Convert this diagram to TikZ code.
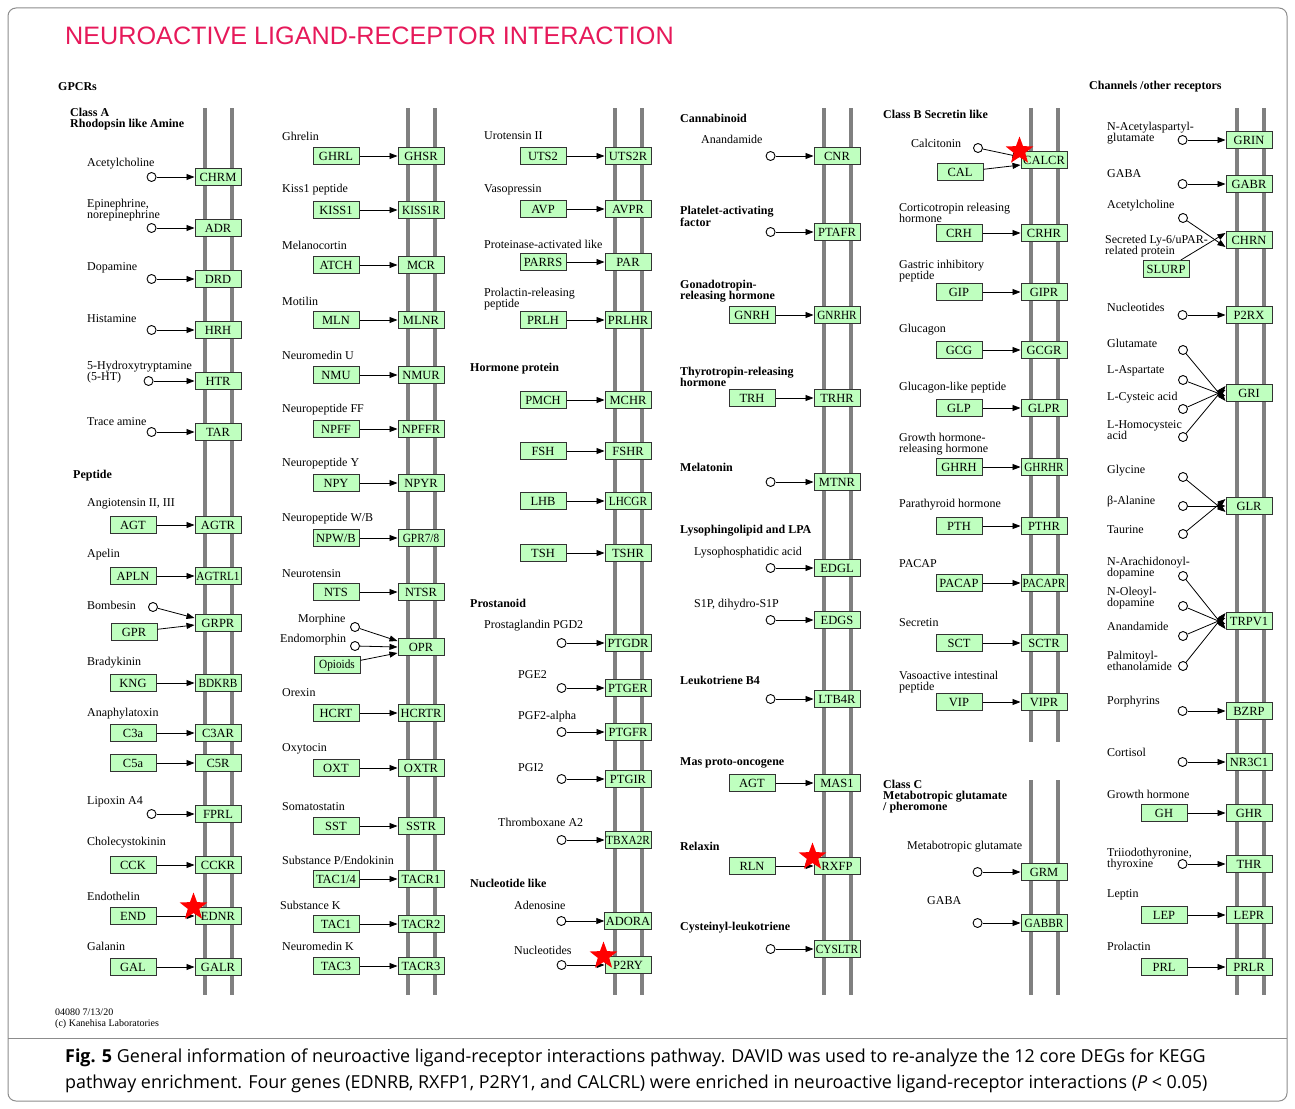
\documentclass[tikz,border=0pt]{standalone}
\usepackage{fontspec}
\setmainfont{Liberation Serif}
\newfontfamily\titlefont{Liberation Sans}
\newfontfamily\capfont{Open Sans}
\newfontfamily\narrowfont[FakeStretch=0.9]{Liberation Serif}
\usepackage{tikz}
\usetikzlibrary{positioning, arrows.meta, shapes.geometric}
\definecolor{keggGreen}{RGB}{191,255,191}
\definecolor{memGray}{RGB}{128,128,128}
\definecolor{titleRed}{RGB}{230,25,90}

\begin{document}
\begin{tikzpicture}[x=1pt, y=-1pt, node distance=38pt, >={Triangle[length=8pt,width=6pt]},
        rec/.style={draw=black!80, fill=keggGreen, line width=1pt, minimum width=46pt, minimum height=17pt, inner sep=1pt, font=\fontsize{12.5}{13}\selectfont},
        tight/.style={font=\narrowfont\fontsize{12.5}{13}\selectfont},
        cpd/.style={draw, circle, fill=white, line width=0.9pt, minimum size=9pt, inner sep=0pt},
        lbl/.style={anchor=west, align=left, inner sep=0pt, font=\fontsize{12}{11}\selectfont},
        grp/.style={anchor=west, align=left, inner sep=0pt, font=\bfseries\fontsize{12}{11}\selectfont},
        mem/.style={draw=memGray, line width=4pt},
        hit/.style={star, star points=5, star point ratio=2.4, fill=red, minimum size=29pt, inner sep=0pt}]
        \useasboundingbox (0,0) rectangle (1295,1108);
        \draw[black!45, line width=1pt, rounded corners=8pt] (8,8) rectangle (1287,1101);
        \draw[black!45, line width=1pt] (8,1038) -- (1287,1038);

        \node[anchor=west, inner sep=0pt, text=titleRed, font=\titlefont\fontsize{25.2}{27}\selectfont] (title) at (65,36) {NEUROACTIVE LIGAND-RECEPTOR INTERACTION};

        \draw[mem] (205,108) -- (205,995);
        \draw[mem] (232,108) -- (232,995);
        \draw[mem] (408,108) -- (408,995);
        \draw[mem] (435,108) -- (435,995);
        \draw[mem] (615,108) -- (615,995);
        \draw[mem] (642,108) -- (642,995);
        \draw[mem] (824,108) -- (824,995);
        \draw[mem] (851,108) -- (851,995);
        \draw[mem] (1031,108) -- (1031,742);
        \draw[mem] (1058,108) -- (1058,742);
        \draw[mem] (1031,780) -- (1031,995);
        \draw[mem] (1058,780) -- (1058,995);
        \draw[mem] (1237,108) -- (1237,995);
        \draw[mem] (1264,108) -- (1264,995);

        \node[grp] (gpcr) at (58,87) {GPCRs};
        \node[grp] (classa) at (70,119.5) {Class A\\Rhodopsin like Amine};
        \node[rec] (chrm) at (218,177) {CHRM};
        \node[cpd, left=of chrm] (ach) {};
        \node[lbl] (t-ach) at (87,164) {Acetylcholine};
        \node[rec] (adr) at (218,228) {ADR};
        \node[cpd, left=of adr] (epi) {};
        \node[lbl] (t-epi) at (87,210.5) {Epinephrine,\\norepinephrine};
        \node[rec] (drd) at (218,279) {DRD};
        \node[cpd, left=of drd] (dop) {};
        \node[lbl] (t-dop) at (87,268) {Dopamine};
        \node[rec] (hrh) at (218,330) {HRH};
        \node[cpd, left=of hrh] (his) {};
        \node[lbl] (t-his) at (87,319) {Histamine};
        \node[rec] (htr) at (218,381) {HTR};
        \node[cpd, left=41pt of htr] (sht) {};
        \node[lbl] (t-sht) at (87,372) {5-Hydroxytryptamine\\(5-HT)};
        \node[rec] (tar) at (218,432) {TAR};
        \node[cpd, left=of tar] (tra) {};
        \node[lbl] (t-tra) at (87,422) {Trace amine};
        \node[grp] (pept) at (73,476) {Peptide};
        \node[rec] (agtr) at (218,525) {AGTR};
        \node[rec, left=of agtr] (agt) {AGT};
        \node[lbl] (t-agt) at (87,504) {Angiotensin II, III};
        \node[rec, tight] (agtrl) at (218,576) {AGTRL1};
        \node[rec, left=of agtrl] (apln) {APLN};
        \node[lbl] (t-apln) at (87,555) {Apelin};
        \node[rec] (grpr) at (218,623) {GRPR};
        \node[cpd] (bom) at (153,607) {};
        \node[rec] (gpr) at (134,632) {GPR};
        \node[lbl] (t-bom) at (87,605) {Bombesin};
        \node[rec, tight] (bdkrb) at (218,683) {BDKRB};
        \node[rec, left=of bdkrb] (kng) {KNG};
        \node[lbl] (t-kng) at (87,663) {Bradykinin};
        \node[rec] (c3ar) at (218,733) {C3AR};
        \node[rec, left=of c3ar] (c3a) {C3a};
        \node[lbl] (t-c3a) at (87,714) {Anaphylatoxin};
        \node[rec] (c5r) at (218,763) {C5R};
        \node[rec, left=of c5r] (c5a) {C5a};
        \node[rec] (fprl) at (218,814) {FPRL};
        \node[cpd, left=of fprl] (lxa) {};
        \node[lbl] (t-lxa) at (87,802) {Lipoxin A4};
        \node[rec] (cckr) at (218,865) {CCKR};
        \node[rec, left=of cckr] (cck) {CCK};
        \node[lbl] (t-cck) at (87,843) {Cholecystokinin};
        \node[rec] (ednr) at (218,916) {EDNR};
        \node[rec, left=of ednr] (end) {END};
        \node[lbl] (t-end) at (87,896) {Endothelin};
        \node[rec] (galr) at (218,967) {GALR};
        \node[rec, left=of galr] (gal) {GAL};
        \node[lbl] (t-gal) at (87,946) {Galanin};

        \draw[->, thick] (ach) -- (chrm);
        \draw[->, thick] (epi) -- (adr);
        \draw[->, thick] (dop) -- (drd);
        \draw[->, thick] (his) -- (hrh);
        \draw[->, thick] (sht) -- (htr);
        \draw[->, thick] (tra) -- (tar);
        \draw[->, thick] (agt) -- (agtr);
        \draw[->, thick] (apln) -- (agtrl);
        \draw[->, thick] (bom) -- ([yshift=5pt]grpr.west);
        \draw[->, thick] (gpr) -- ([yshift=-2pt]grpr.west);
        \draw[->, thick] (kng) -- (bdkrb);
        \draw[->, thick] (c3a) -- (c3ar);
        \draw[->, thick] (c5a) -- (c5r);
        \draw[->, thick] (lxa) -- (fprl);
        \draw[->, thick] (cck) -- (cckr);
        \draw[->, thick] (end) -- (ednr);
        \draw[->, thick] (gal) -- (galr);

        \node[rec] (ghsr) at (421,156) {GHSR};
        \node[rec, left=of ghsr] (ghrl) {GHRL};
        \node[lbl] (t-ghrl) at (282,136) {Ghrelin};
        \node[rec, tight] (kissr) at (421,210) {KISS1R};
        \node[rec, left=of kissr] (kiss) {KISS1};
        \node[lbl] (t-kiss) at (282,190) {Kiss1 peptide};
        \node[rec] (mcr) at (421,265) {MCR};
        \node[rec, left=of mcr] (atch) {ATCH};
        \node[lbl] (t-atch) at (282,245) {Melanocortin};
        \node[rec] (mlnr) at (421,320) {MLNR};
        \node[rec, left=of mlnr] (mln) {MLN};
        \node[lbl] (t-mln) at (282,301) {Motilin};
        \node[rec] (nmur) at (421,375) {NMUR};
        \node[rec, left=of nmur] (nmu) {NMU};
        \node[lbl] (t-nmu) at (282,355) {Neuromedin U};
        \node[rec] (npffr) at (421,429) {NPFFR};
        \node[rec, left=of npffr] (npff) {NPFF};
        \node[lbl] (t-npff) at (282,410) {Neuropeptide FF};
        \node[rec] (npyr) at (421,483) {NPYR};
        \node[rec, left=of npyr] (npy) {NPY};
        \node[lbl] (t-npy) at (282,464) {Neuropeptide Y};
        \node[rec, tight] (gpr78) at (421,538) {GPR7/8};
        \node[rec, left=of gpr78] (npwb) {NPW/B};
        \node[lbl] (t-npwb) at (282,519) {Neuropeptide W/B};
        \node[rec] (ntsr) at (421,592) {NTSR};
        \node[rec, left=of ntsr] (nts) {NTS};
        \node[lbl] (t-nts) at (282,574) {Neurotensin};
        \node[rec] (opr) at (421,647) {OPR};
        \node[cpd] (mor) at (355,627) {};
        \node[lbl] (t-mor) at (298,620) {Morphine};
        \node[cpd] (emo) at (355,646) {};
        \node[lbl] (t-emo) at (280,640) {Endomorphin};
        \node[rec, tight] (opi) at (337,665) {Opioids};
        \node[rec] (hcrtr) at (421,713) {HCRTR};
        \node[rec, left=of hcrtr] (hcrt) {HCRT};
        \node[lbl] (t-hcrt) at (282,693) {Orexin};
        \node[rec] (oxtr) at (421,768) {OXTR};
        \node[rec, left=of oxtr] (oxt) {OXT};
        \node[lbl] (t-oxt) at (282,749) {Oxytocin};
        \node[rec] (sstr) at (421,826) {SSTR};
        \node[rec, left=of sstr] (sst) {SST};
        \node[lbl] (t-sst) at (282,807) {Somatostatin};
        \node[rec] (tacra) at (421,879) {TACR1};
        \node[rec, left=of tacra] (taca) {TAC1/4};
        \node[lbl] (t-taca) at (282,860) {Substance P/Endokinin};
        \node[rec] (tacrb) at (421,924) {TACR2};
        \node[rec, left=of tacrb] (tacb) {TAC1};
        \node[lbl] (t-tacb) at (280,905) {Substance K};
        \node[rec] (tacrc) at (421,966) {TACR3};
        \node[rec, left=of tacrc] (tacc) {TAC3};
        \node[lbl] (t-tacc) at (282,946) {Neuromedin K};

        \draw[->, thick] (ghrl) -- (ghsr);
        \draw[->, thick] (kiss) -- (kissr);
        \draw[->, thick] (atch) -- (mcr);
        \draw[->, thick] (mln) -- (mlnr);
        \draw[->, thick] (nmu) -- (nmur);
        \draw[->, thick] (npff) -- (npffr);
        \draw[->, thick] (npy) -- (npyr);
        \draw[->, thick] (npwb) -- (gpr78);
        \draw[->, thick] (nts) -- (ntsr);
        \draw[->, thick] (mor) -- ([yshift=6pt]opr.west);
        \draw[->, thick] (emo) -- ([yshift=0pt]opr.west);
        \draw[->, thick] (opi) -- ([yshift=-6pt]opr.west);
        \draw[->, thick] (hcrt) -- (hcrtr);
        \draw[->, thick] (oxt) -- (oxtr);
        \draw[->, thick] (sst) -- (sstr);
        \draw[->, thick] (taca) -- (tacra);
        \draw[->, thick] (tacb) -- (tacrb);
        \draw[->, thick] (tacc) -- (tacrc);

        \node[rec] (uts2r) at (628,156) {UTS2R};
        \node[rec, left=of uts2r] (uts2) {UTS2};
        \node[lbl] (t-uts2) at (484,136) {Urotensin II};
        \node[rec] (avpr) at (628,209) {AVPR};
        \node[rec, left=of avpr] (avp) {AVP};
        \node[lbl] (t-avp) at (484,190) {Vasopressin};
        \node[rec] (par) at (628,262) {PAR};
        \node[rec, left=of par] (parrs) {PARRS};
        \node[lbl] (t-parrs) at (484,244) {Proteinase-activated like};
        \node[rec] (prlhr) at (628,320) {PRLHR};
        \node[rec, left=of prlhr] (prlh) {PRLH};
        \node[lbl] (t-prlh) at (484,299) {Prolactin-releasing\\peptide};
        \node[grp] (hormp) at (470,369) {Hormone protein};
        \node[rec] (mchr) at (628,400) {MCHR};
        \node[rec, left=of mchr] (pmch) {PMCH};
        \node[rec] (fshr) at (628,451) {FSHR};
        \node[rec, left=of fshr] (fsh) {FSH};
        \node[rec, tight] (lhcgr) at (628,501) {LHCGR};
        \node[rec, left=of lhcgr] (lhb) {LHB};
        \node[rec] (tshr) at (628,553) {TSHR};
        \node[rec, left=of tshr] (tsh) {TSH};
        \node[grp] (prost) at (470,603) {Prostanoid};
        \node[rec] (ptgdr) at (628,643) {PTGDR};
        \node[cpd, left=of ptgdr] (pgd) {};
        \node[lbl] (t-pgd) at (484,626) {Prostaglandin PGD2};
        \node[rec] (ptger) at (628,688) {PTGER};
        \node[cpd, left=of ptger] (pge) {};
        \node[lbl] (t-pge) at (518,675) {PGE2};
        \node[rec] (ptgfr) at (628,732) {PTGFR};
        \node[cpd, left=of ptgfr] (pgf) {};
        \node[lbl] (t-pgf) at (518,717) {PGF2-alpha};
        \node[rec] (ptgir) at (628,779) {PTGIR};
        \node[cpd, left=of ptgir] (pgi) {};
        \node[lbl] (t-pgi) at (518,768) {PGI2};
        \node[rec, tight] (tbxr) at (628,840) {TBXA2R};
        \node[cpd, left=of tbxr] (txa) {};
        \node[lbl] (t-txa) at (498,822) {Thromboxane A2};
        \node[grp] (nucl) at (470,883) {Nucleotide like};
        \node[rec] (adora) at (628,921) {ADORA};
        \node[cpd, left=of adora] (ado) {};
        \node[lbl] (t-ado) at (514,905) {Adenosine};
        \node[rec] (p2ry) at (628,965) {P2RY};
        \node[cpd, left=of p2ry] (nuc) {};
        \node[lbl] (t-nuc) at (514,950) {Nucleotides};

        \draw[->, thick] (uts2) -- (uts2r);
        \draw[->, thick] (avp) -- (avpr);
        \draw[->, thick] (parrs) -- (par);
        \draw[->, thick] (prlh) -- (prlhr);
        \draw[->, thick] (pmch) -- (mchr);
        \draw[->, thick] (fsh) -- (fshr);
        \draw[->, thick] (lhb) -- (lhcgr);
        \draw[->, thick] (tsh) -- (tshr);
        \draw[->, thick] (pgd) -- (ptgdr);
        \draw[->, thick] (pge) -- (ptger);
        \draw[->, thick] (pgf) -- (ptgfr);
        \draw[->, thick] (pgi) -- (ptgir);
        \draw[->, thick] (txa) -- (tbxr);
        \draw[->, thick] (ado) -- (adora);
        \draw[->, thick] (nuc) -- (p2ry);

        \node[grp] (cann) at (680,118) {Cannabinoid};
        \node[rec] (cnr) at (837,156) {CNR};
        \node[cpd, left=of cnr] (ana) {};
        \node[lbl] (t-ana) at (701,139) {Anandamide};
        \node[grp] (paf) at (680,216) {Platelet-activating\\factor};
        \node[rec] (ptafr) at (837,232) {PTAFR};
        \node[cpd, left=of ptafr] (pafc) {};
        \node[grp] (gnrhg) at (680,291) {Gonadotropin-\\releasing hormone};
        \node[rec, tight] (gnrhr) at (837,315) {GNRHR};
        \node[rec, left=of gnrhr] (gnrh) {GNRH};
        \node[grp] (trhg) at (680,377) {Thyrotropin-releasing\\hormone};
        \node[rec] (trhr) at (837,398) {TRHR};
        \node[rec, left=of trhr] (trh) {TRH};
        \node[grp] (mela) at (680,467) {Melatonin};
        \node[rec] (mtnr) at (837,482) {MTNR};
        \node[cpd, left=of mtnr] (mel) {};
        \node[grp] (lpa) at (680,531) {Lysophingolipid and LPA};
        \node[rec] (edgl) at (837,568) {EDGL};
        \node[cpd, left=of edgl] (lpac) {};
        \node[lbl] (t-lpac) at (694,553) {Lysophosphatidic acid};
        \node[rec] (edgs) at (837,620) {EDGS};
        \node[cpd, left=of edgs] (sip) {};
        \node[lbl] (t-sip) at (694,605) {S1P, dihydro-S1P};
        \node[grp] (ltb) at (680,680) {Leukotriene B4};
        \node[rec] (ltbr) at (837,699) {LTB4R};
        \node[cpd, left=of ltbr] (ltbc) {};
        \node[grp] (masg) at (680,763) {Mas proto-oncogene};
        \node[rec] (mas) at (837,783) {MAS1};
        \node[rec, left=of mas] (agtb) {AGT};
        \node[grp] (rlx) at (680,846) {Relaxin};
        \node[rec] (rxfp) at (837,866) {RXFP};
        \node[rec, left=of rxfp] (rln) {RLN};
        \node[grp] (cys) at (680,928) {Cysteinyl-leukotriene};
        \node[rec, tight] (cysltr) at (837,949) {CYSLTR};
        \node[cpd, left=of cysltr] (cysc) {};

        \draw[->, thick] (ana) -- (cnr);
        \draw[->, thick] (pafc) -- (ptafr);
        \draw[->, thick] (gnrh) -- (gnrhr);
        \draw[->, thick] (trh) -- (trhr);
        \draw[->, thick] (mel) -- (mtnr);
        \draw[->, thick] (lpac) -- (edgl);
        \draw[->, thick] (sip) -- (edgs);
        \draw[->, thick] (ltbc) -- (ltbr);
        \draw[->, thick] (agtb) -- (mas);
        \draw[->, thick] (rln) -- (rxfp);
        \draw[->, thick] (cysc) -- (cysltr);

        \node[grp] (classb) at (883,114) {Class B Secretin like};
        \node[rec] (calcr) at (1044,160) {CALCR};
        \node[cpd] (cton) at (978,148) {};
        \node[lbl] (t-cton) at (911,143) {Calcitonin};
        \node[rec] (cal) at (960,172) {CAL};
        \node[rec] (crhr) at (1044,233) {CRHR};
        \node[rec, left=of crhr] (crh) {CRH};
        \node[lbl] (t-crh) at (899,212.5) {Corticotropin releasing\\hormone};
        \node[rec] (gipr) at (1044,292) {GIPR};
        \node[rec, left=of gipr] (gip) {GIP};
        \node[lbl] (t-gip) at (899,271.5) {Gastric inhibitory\\peptide};
        \node[rec] (gcgr) at (1044,350) {GCGR};
        \node[rec, left=of gcgr] (gcg) {GCG};
        \node[lbl] (t-gcg) at (899,330) {Glucagon};
        \node[rec] (glpr) at (1044,408) {GLPR};
        \node[rec, left=of glpr] (glp) {GLP};
        \node[lbl] (t-glp) at (899,388) {Glucagon-like peptide};
        \node[rec, tight] (ghrhr) at (1044,467) {GHRHR};
        \node[rec, left=of ghrhr] (ghrh) {GHRH};
        \node[lbl] (t-ghrh) at (899,444) {Growth hormone-\\releasing hormone};
        \node[rec] (pthr) at (1044,526) {PTHR};
        \node[rec, left=of pthr] (pth) {PTH};
        \node[lbl] (t-pth) at (899,505) {Parathyroid hormone};
        \node[rec, tight] (pacapr) at (1044,583) {PACAPR};
        \node[rec, left=of pacapr] (pacap) {PACAP};
        \node[lbl] (t-pacap) at (899,564) {PACAP};
        \node[rec] (sctr) at (1044,643) {SCTR};
        \node[rec, left=of sctr] (sct) {SCT};
        \node[lbl] (t-sct) at (899,623) {Secretin};
        \node[rec] (vipr) at (1044,702) {VIPR};
        \node[rec, left=of vipr] (vip) {VIP};
        \node[lbl] (t-vip) at (899,682) {Vasoactive intestinal\\peptide};
        \node[grp] (classc) at (883,797) {Class C\\Metabotropic glutamate\\/ pheromone};
        \node[rec] (grm) at (1044,872) {GRM};
        \node[cpd, left=of grm] (glu) {};
        \node[lbl] (t-glu) at (907,847) {Metabotropic glutamate};
        \node[rec, tight] (gabbr) at (1044,923) {GABBR};
        \node[cpd, left=of gabbr] (gaba) {};
        \node[lbl] (t-gaba) at (927,901) {GABA};

        \draw[->, thick] (cton) -- ([yshift=3pt]calcr.west);
        \draw[->, thick] (cal) -- ([yshift=-5pt]calcr.west);
        \draw[->, thick] (crh) -- (crhr);
        \draw[->, thick] (gip) -- (gipr);
        \draw[->, thick] (gcg) -- (gcgr);
        \draw[->, thick] (glp) -- (glpr);
        \draw[->, thick] (ghrh) -- (ghrhr);
        \draw[->, thick] (pth) -- (pthr);
        \draw[->, thick] (pacap) -- (pacapr);
        \draw[->, thick] (sct) -- (sctr);
        \draw[->, thick] (vip) -- (vipr);
        \draw[->, thick] (glu) -- (grm);
        \draw[->, thick] (gaba) -- (gabbr);

        \node[grp] (chan) at (1089,87) {Channels /other receptors};
        \node[rec] (grin) at (1249,140) {GRIN};
        \node[cpd, left=of grin] (naag) {};
        \node[lbl] (t-naag) at (1107,133.5) {N-Acetylaspartyl-\\glutamate};
        \node[rec] (gabr) at (1249,184) {GABR};
        \node[cpd, left=of gabr] (gabb) {};
        \node[lbl] (t-gabb) at (1107,174) {GABA};
        \node[rec] (chrn) at (1249,240) {CHRN};
        \node[cpd] (achb) at (1183,218) {};
        \node[lbl] (t-achb) at (1107,206) {Acetylcholine};
        \node[lbl] (t-slurp) at (1105,246) {Secreted Ly-6/uPAR-\\related protein};
        \node[rec] (slurp) at (1166,269) {SLURP};
        \node[rec] (p2rx) at (1249,315) {P2RX};
        \node[cpd, left=of p2rx] (nucb) {};
        \node[lbl] (t-nucb) at (1107,307) {Nucleotides};
        \node[rec] (gri) at (1249,393) {GRI};
        \node[cpd] (glut) at (1183,350) {};
        \node[lbl] (t-glut) at (1107,343) {Glutamate};
        \node[cpd] (lasp) at (1183,380) {};
        \node[lbl] (t-lasp) at (1107,371) {L-Aspartate};
        \node[cpd] (lcys) at (1183,409) {};
        \node[lbl] (t-lcys) at (1107,398) {L-Cysteic acid};
        \node[cpd] (lhcy) at (1183,437) {};
        \node[lbl] (t-lhcy) at (1107,430) {L-Homocysteic\\acid};
        \node[rec] (glr) at (1249,506) {GLR};
        \node[cpd] (gly) at (1183,477) {};
        \node[lbl] (t-gly) at (1107,471) {Glycine};
        \node[cpd] (bala) at (1183,506) {};
        \node[lbl] (t-bala) at (1107,502) {β-Alanine};
        \node[cpd] (tau) at (1183,534) {};
        \node[lbl] (t-tau) at (1107,530) {Taurine};
        \node[rec] (trpv) at (1249,621) {TRPV1};
        \node[cpd] (nada) at (1183,576) {};
        \node[lbl] (t-nada) at (1107,568.5) {N-Arachidonoyl-\\dopamine};
        \node[cpd] (olda) at (1183,606) {};
        \node[lbl] (t-olda) at (1107,598.5) {N-Oleoyl-\\dopamine};
        \node[cpd] (anab) at (1183,636) {};
        \node[lbl] (t-anab) at (1107,626) {Anandamide};
        \node[cpd] (pea) at (1183,666) {};
        \node[lbl] (t-pea) at (1107,661) {Palmitoyl-\\ethanolamide};
        \node[rec] (bzrp) at (1249,711) {BZRP};
        \node[cpd, left=of bzrp] (por) {};
        \node[lbl] (t-por) at (1107,702) {Porphyrins};
        \node[rec] (nr3c) at (1249,762) {NR3C1};
        \node[cpd, left=of nr3c] (cort) {};
        \node[lbl] (t-cort) at (1107,752) {Cortisol};
        \node[rec] (ghr) at (1249,813) {GHR};
        \node[rec, left=of ghr] (gh) {GH};
        \node[lbl] (t-gh) at (1107,794) {Growth hormone};
        \node[rec] (thr) at (1249,864) {THR};
        \node[cpd, left=of thr] (thy) {};
        \node[lbl] (t-thy) at (1107,859) {Triiodothyronine,\\thyroxine};
        \node[rec] (lepr) at (1249,915) {LEPR};
        \node[rec, left=of lepr] (lep) {LEP};
        \node[lbl] (t-lep) at (1107,895) {Leptin};
        \node[rec] (prlr) at (1249,967) {PRLR};
        \node[rec, left=of prlr] (prl) {PRL};
        \node[lbl] (t-prl) at (1107,946) {Prolactin};

        \draw[->, thick] (naag) -- (grin);
        \draw[->, thick] (gabb) -- (gabr);
        \draw[->, thick] (achb) -- ([yshift=-7pt]chrn.west);
        \draw[->, thick] (slurp) -- ([yshift=7pt]chrn.west);
        \draw[->, thick] (nucb) -- (p2rx);
        \draw[->, thick] (glut) -- ([yshift=-8pt]gri.west);
        \draw[->, thick] (lasp) -- ([yshift=-3pt]gri.west);
        \draw[->, thick] (lcys) -- ([yshift=3pt]gri.west);
        \draw[->, thick] (lhcy) -- ([yshift=7pt]gri.west);
        \draw[->, thick] (gly) -- ([yshift=-6pt]glr.west);
        \draw[->, thick] (bala) -- (glr);
        \draw[->, thick] (tau) -- ([yshift=7pt]glr.west);
        \draw[->, thick] (nada) -- ([yshift=-8pt]trpv.west);
        \draw[->, thick] (olda) -- ([yshift=-3pt]trpv.west);
        \draw[->, thick] (anab) -- ([yshift=3pt]trpv.west);
        \draw[->, thick] (pea) -- ([yshift=8pt]trpv.west);
        \draw[->, thick] (por) -- (bzrp);
        \draw[->, thick] (cort) -- (nr3c);
        \draw[->, thick] (gh) -- (ghr);
        \draw[->, thick] (thy) -- (thr);
        \draw[->, thick] (lep) -- (lepr);
        \draw[->, thick] (prl) -- (prlr);

        \node[hit] (s-ednr) at ([xshift=-1pt]ednr.north west) {};
        \node[hit] (s-p2ry) at ([xshift=-1pt]p2ry.north west) {};
        \node[hit] (s-rxfp) at ([xshift=-1pt]rxfp.north west) {};
        \node[hit] (s-calcr) at ([xshift=-1pt]calcr.north west) {};

        \node[lbl, font=\fontsize{10}{10.5}\selectfont] (kegg) at (55,1018.5) {04080 7/13/20\\(c) Kanehisa Laboratories};
        \node[anchor=north west, align=left, inner sep=0pt, font=\capfont\fontsize{17.9}{26}\selectfont] (cap) at (65,1049)
            {\textbf{Fig. 5} General information of neuroactive ligand-receptor interactions pathway. DAVID was used to re-analyze the 12 core DEGs for KEGG\\pathway enrichment. Four genes (EDNRB, RXFP1, P2RY1, and CALCRL) were enriched in neuroactive ligand-receptor interactions (\textit{P} < 0.05)};
\end{tikzpicture}
\end{document}
